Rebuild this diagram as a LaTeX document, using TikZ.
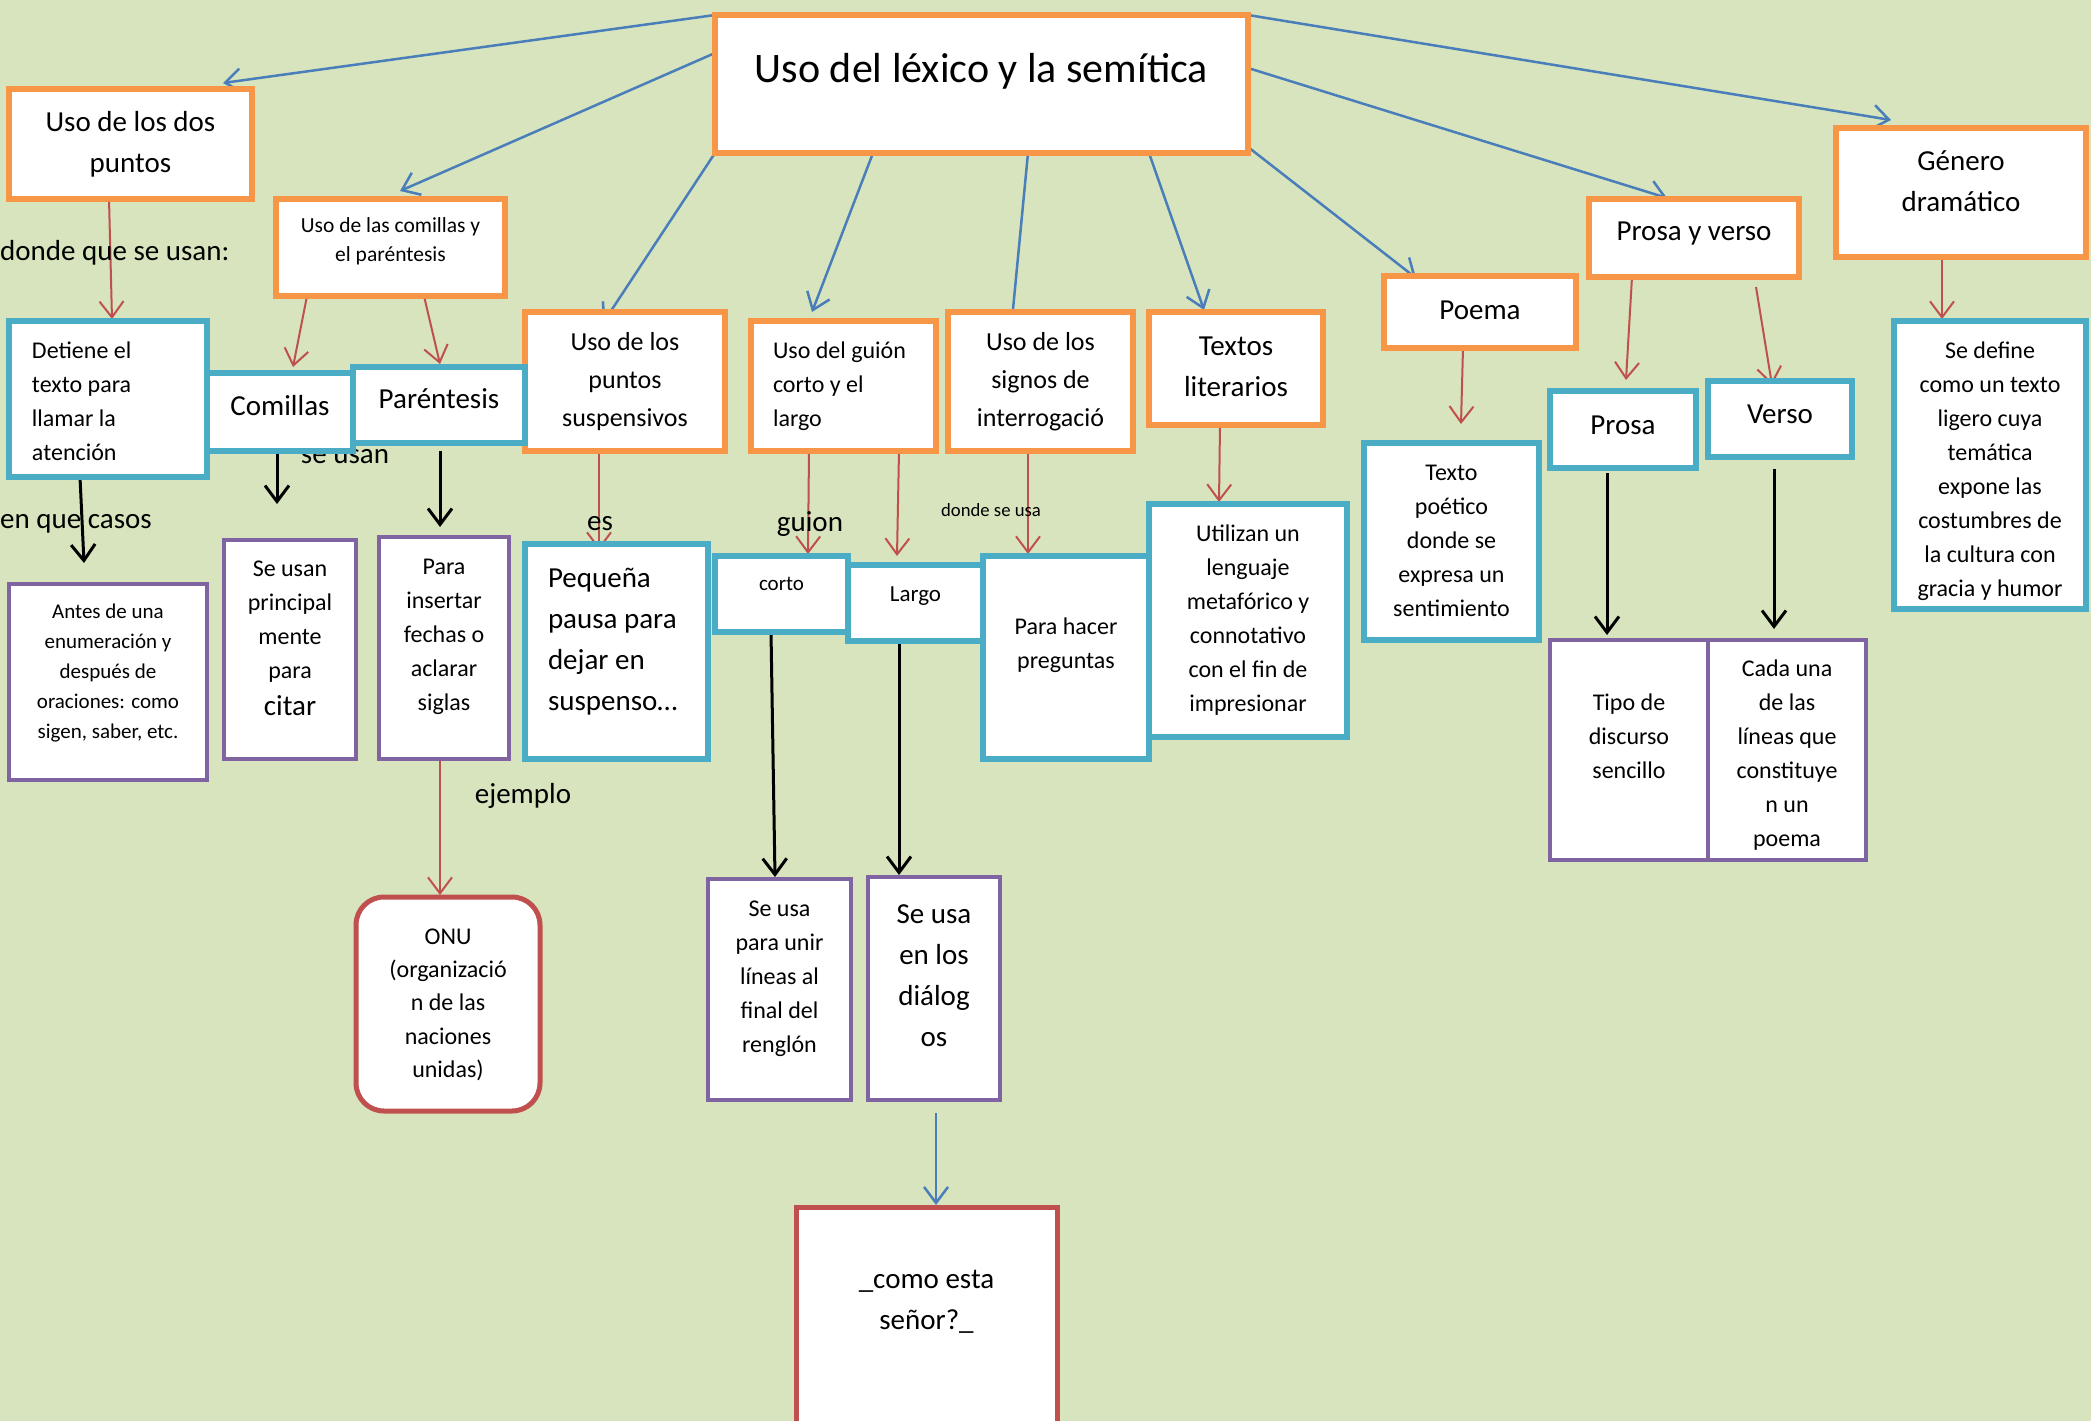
\documentclass[tikz,border=0pt]{standalone}
\usepackage{fontspec}
\setmainfont{Carlito}
\usetikzlibrary{arrows.meta,calc}
\definecolor{bgc}{HTML}{D7E4BD}
\definecolor{orgc}{HTML}{F79646}
\definecolor{bluc}{HTML}{4BACC6}
\definecolor{purc}{HTML}{8064A2}
\definecolor{redc}{HTML}{C0504D}
\definecolor{arrb}{HTML}{4A7EBB}
\pgfdeclarelayer{bg}
\pgfsetlayers{bg,main}
\newcommand\fs[2]{\fontsize{#1}{#2}\selectfont}
\newcommand\bt[4]{\parbox[c][#2][t]{#1}{\centering\vspace*{\dimexpr#3+0.38em-0.7\baselineskip\relax}\strut#4\par}}
\newcommand\bl[5]{\parbox[c][#2][t]{#1}{\raggedright\leftskip=#5\relax\vspace*{\dimexpr#3+0.38em-0.7\baselineskip\relax}\strut#4\par}}
\begin{document}
\begin{tikzpicture}[x=1pt,y=-1pt,
  box/.style={draw, fill=white, inner sep=0pt, outer sep=0pt, anchor=north west, text=black},
  ob/.style={box, draw=orgc, line width=5.5pt},
  cb/.style={box, draw=bluc, line width=5.5pt},
  pb/.style={box, draw=purc, line width=4.5pt},
  rb/.style={box, draw=redc, line width=5pt},
  lab/.style={inner sep=0pt, font=\fs{29}{35}},
  ba/.style={draw=arrb, line width=2.5pt, -{Straight Barb[length=16pt,width=24pt]}},
  ra/.style={draw=redc, line width=2pt, -{Straight Barb[length=16pt,width=24pt]}},
  ka/.style={draw=black, line width=3pt, -{Straight Barb[length=16pt,width=24pt]}}]
\useasboundingbox (0,0) rectangle (2091,1421);
% top level
\node[ob, font=\fs{42}{55}] (title) at (715,15) {\bt{533pt}{138pt}{52pt}{Uso del léxico y la semítica}};
\node[ob, font=\fs{29}{41}] (dos) at (9,89) {\bt{243pt}{110pt}{31pt}{Uso de los dos\\puntos}};
\node[ob, font=\fs{21.5}{29}] (comy) at (276,199) {\bt{229pt}{97pt}{25pt}{Uso de las comillas y\\el paréntesis}};
\node[ob, font=\fs{26}{38}] (puntos) at (525,312) {\bt{200pt}{139pt}{29pt}{Uso de los\\puntos\\suspensivos}};
\node[ob, font=\fs{24}{34}] (guion) at (751,321) {\bl{185pt}{130pt}{28pt}{Uso del guión\\corto y el\\largo}{22pt}};
\node[ob, font=\fs{26}{38}] (interr) at (948,312) {\bt{185pt}{139pt}{29pt}{Uso de los\\signos de\\interrogació}};
\node[ob, font=\fs{29}{41}] (textos) at (1149,312) {\bt{174pt}{113pt}{32pt}{Textos\\literarios}};
\node[ob, font=\fs{29}{41}] (poema) at (1384,276) {\bt{192pt}{72pt}{32pt}{Poema}};
\node[ob, font=\fs{29}{41}] (pyv) at (1589,199) {\bt{210pt}{78pt}{30pt}{Prosa y verso}};
\node[ob, font=\fs{29}{41}] (genero) at (1836,128) {\bt{250pt}{129pt}{31pt}{Género\\dramático}};
% second level
\node[cb, font=\fs{24}{34}] (detiene) at (9,321) {\bl{198pt}{156pt}{28pt}{Detiene el\\texto para\\llamar la\\atención}{23pt}};
\node[cb, font=\fs{29}{41}] (comillas) at (207,373) {\bt{146pt}{78pt}{31pt}{Comillas}};
\node[cb, font=\fs{29}{41}] (paren) at (353,367) {\bt{172pt}{76pt}{30pt}{Paréntesis}};
\node[cb, font=\fs{21}{30}] (corto) at (715,556) {\bt{133pt}{76pt}{27pt}{corto}};
\node[cb, font=\fs{23}{32}] (largo) at (848,565) {\bt{135pt}{76pt}{28pt}{Largo}};
\node[cb, font=\fs{24}{34}] (preg) at (983,556) {\bt{166pt}{203pt}{69pt}{Para hacer\\preguntas}};
\node[cb, font=\fs{24}{34}] (util) at (1149,504) {\bt{198pt}{233pt}{28pt}{Utilizan un\\lenguaje\\metafórico y\\connotativo\\con el fin de\\impresionar}};
\node[cb, font=\fs{24}{34}] (tpoet) at (1364,443) {\bt{175pt}{197pt}{28pt}{Texto\\poético\\donde se\\expresa un\\sentimiento}};
\node[cb, font=\fs{29}{41}] (prosa) at (1550,391) {\bt{146pt}{77pt}{32pt}{Prosa}};
\node[cb, font=\fs{29}{41}] (verso) at (1708,381) {\bt{144pt}{76pt}{31pt}{Verso}};
\node[cb, font=\fs{24}{34}] (sedef) at (1894,321) {\bt{192pt}{288pt}{28pt}{Se define\\como un texto\\ligero cuya\\temática\\expone las\\costumbres de\\la cultura con\\gracia y humor}};
\node[cb, font=\fs{29}{41}] (peq) at (525,544) {\bl{183pt}{215pt}{32pt}{Pequeña\\pausa para\\dejar en\\suspenso…}{23pt}};
% third level
\node[pb, font=\fs{21}{30}] (antes) at (9,584) {\bt{198pt}{196pt}{27pt}{Antes de una\\enumeración y\\después de\\oraciones: como\\sigen, saber, etc.}};
\node[pb, font=\fs{24}{34}] (citar) at (224,540) {\bt{132pt}{219pt}{27pt}{Se usan\\principal\\mente\\para\\[3pt]{\fs{29}{34}citar}}};
\node[pb, font=\fs{24}{34}] (insertar) at (379,537) {\bt{130pt}{222pt}{28pt}{Para\\insertar\\fechas o\\aclarar\\siglas}};
\node[pb, font=\fs{24}{34}] (unir) at (708,879) {\bt{143pt}{221pt}{28pt}{Se usa\\para unir\\líneas al\\final del\\renglón}};
\node[pb, font=\fs{29}{41}] (dia) at (868,877) {\bt{132pt}{223pt}{35pt}{Se usa\\en los\\diálog\\os}};
\node[pb, font=\fs{24}{34}] (tipo) at (1550,640) {\bt{158pt}{220pt}{61pt}{Tipo de\\discurso\\sencillo}};
\node[pb, font=\fs{24}{34}] (cada) at (1708,640) {\bt{158pt}{220pt}{27pt}{Cada una\\de las\\líneas que\\constituye\\n un\\poema}};
\node[rb, rounded corners=28pt, font=\fs{24}{33.3}] (onu) at (356,897) {\bt{184pt}{214pt}{38pt}{ONU\\(organizació\\n de las\\naciones\\unidas)}};
\node[rb, font=\fs{29}{41}] (como) at (796,1207) {\bt{261pt}{240pt}{70pt}{\_como esta\\señor?\_}};
% labels
\node[lab, anchor=west] (l1) at (0,253) {donde que se usan:};
\node[lab, anchor=west] (l2) at (0,524) {en que casos};
\node[lab] (l3) at (600,524) {es};
\node[lab] (l4) at (810,524) {guion};
\node[lab, font=\fs{18.7}{22}] (l5) at (991,510) {donde se usa};
\node[lab] (l6) at (523,796) {ejemplo};
\coordinate (c1) at (277,504);
\coordinate (c2) at (440,527);
\begin{pgfonlayer}{bg}
\fill[bgc] (0,0) rectangle (2091,1421);
\node[lab] (seusan) at (345,457) {se usan};
% blue
\draw[ba] (title.north west) -- ($(dos.north west)+(214,-6)$);
\draw[ba] ($(title.north west)+(0,38)$) -- ($(comy.north west)+(124,-8)$);
\draw[ba] (title.south west) -- ($(puntos.north west)+(78,11)$);
\draw[ba] ($(title.south west)+(158,0)$) -- ($(guion.north west)+(61,-9)$);
\draw[ba] ($(title.south west)+(313,0)$) -- ($(interr.north west)+(63,18)$);
\draw[ba] ($(title.south west)+(434,0)$) -- ($(textos.north west)+(55,-2)$);
\draw[ba] ($(title.south east)+(0,-6)$) -- ($(poema.north west)+(32,2)$);
\draw[ba] ($(title.north east)+(0,53)$) -- ($(pyv.north west)+(78,-1)$);
\draw[ba] (title.north east) -- ($(genero.north west)+(55,-8)$);
\draw[ba] ($(dia.south)+(2,13)$) -- ($(como.north west)+(140,-2)$);
% red
\draw[ra] ($(dos.south west)+(100,0)$) -- ($(detiene.north west)+(103,-2)$);
\draw[ra] ($(comy.south west)+(31,0)$) -- ($(comillas.north west)+(86,-6)$);
\draw[ra] ($(comy.south west)+(148,0)$) -- ($(paren.north west)+(87,-3)$);
\draw[ra] ($(puntos.south west)+(74,0)$) -- ($(peq.north west)+(74,6)$);
\draw[ra] ($(guion.south west)+(58,0)$) -- ($(corto.north west)+(93,-2)$);
\draw[ra] ($(guion.south west)+(148,0)$) -- ($(largo.north west)+(49,-9)$);
\draw[ra] ($(interr.south west)+(80,0)$) -- ($(preg.north west)+(45,-2)$);
\draw[ra] ($(textos.south west)+(71,0)$) -- ($(util.north west)+(70,-2)$);
\draw[ra] ($(poema.south west)+(79,0)$) -- ($(tpoet.north west)+(97,-19)$);
\draw[ra] ($(pyv.south west)+(43,0)$) -- ($(prosa.north west)+(76,-11)$);
\draw[ra] ($(pyv.south west)+(167,10)$) -- ($(verso.north west)+(64,4)$);
\draw[ra] ($(genero.south west)+(106,0)$) -- ($(sedef.north west)+(48,-2)$);
\draw[ra] ($(insertar.south west)+(61,0)$) -- ($(onu.north west)+(84,-2)$);
% black
\draw[ka] ($(detiene.south west)+(71,0)$) -- ($(antes.north west)+(75,-21)$);
\draw[ka] ($(comillas.south west)+(70,0)$) -- (c1);
\draw[ka] ($(paren.south west)+(87,8)$) -- (c2);
\draw[ka] ($(corto.south west)+(56,0)$) -- ($(unir.north west)+(67,-2)$);
\draw[ka] ($(largo.south west)+(51,0)$) -- ($(dia.north west)+(31,-2)$);
\draw[ka] ($(prosa.south west)+(57,5)$) -- ($(tipo.north west)+(57,-5)$);
\draw[ka] ($(verso.south west)+(66,12)$) -- ($(cada.north west)+(66,-11)$);
\end{pgfonlayer}
\end{tikzpicture}
\end{document}
